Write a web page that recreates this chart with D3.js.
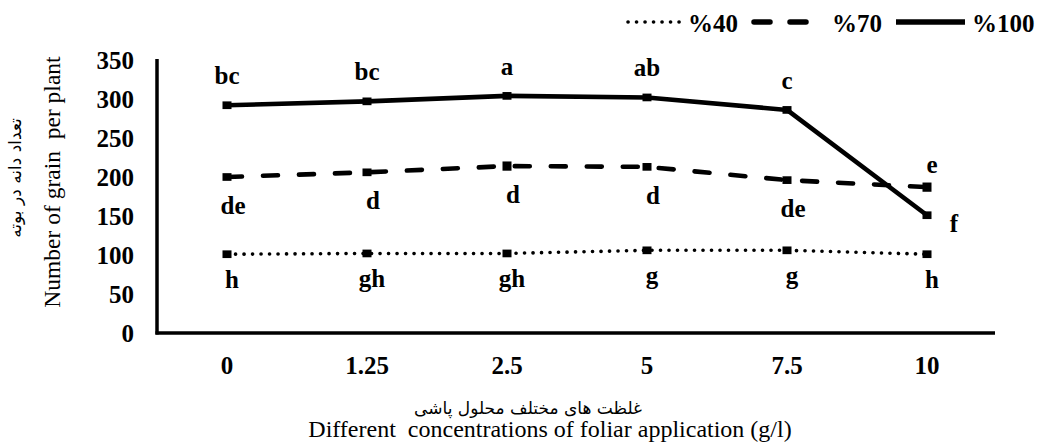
<!DOCTYPE html>
<html>
<head>
<meta charset="utf-8">
<script src="https://cdn.jsdelivr.net/npm/d3@7"></script>
<style>
  html, body { margin: 0; padding: 0; background: #fff; }
  svg { display: block; }
  text { font-family: "Liberation Serif", "Times New Roman", serif; fill: #000; white-space: pre; }
  text.b { font-family: "Liberation Serif", serif; font-weight: 700; }
  .fa { font-family: "DejaVu Sans", "Noto Sans", sans-serif; }
</style>
</head>
<body>
<script>
// ---- data ----
const categories = ["0", "1.25", "2.5", "5", "7.5", "10"];
const yTicks = [0, 50, 100, 150, 200, 250, 300, 350];
const series40 = [101, 102, 102, 106, 106, 101];
const series70 = [200, 206, 214, 213, 196, 187];
const series100 = [292, 297, 304, 302, 286, 151];
const err40 = [3, 3, 3, 3, 3, 3];
const err70 = [3, 3, 4, 3, 3, 4];
const err100 = [3, 3, 3, 3, 3, 3];
const letters40 = ["h", "gh", "gh", "g", "g", "h"];
const letters70 = ["de", "d", "d", "d", "de", "e"];
const letters100 = ["bc", "bc", "a", "ab", "c", "f"];
const legendLabels = ["%40", "%70", "%100"];
const yTitleEn = "Number of grain  per plant";
const yTitleFa = "تعداد دانه در بوته";
const xTitleEn = "Different  concentrations of foliar application (g/l)";
const xTitleFa = "غلظت های مختلف محلول پاشی";

// ---- layout ----
const W = 1040, H = 445;
const svg = d3.select("body").append("svg").attr("width", W).attr("height", H);

const x = d3.scalePoint().domain(categories).range([157, 997]).padding(0.5);
const y = d3.scaleLinear().domain([0, 350]).range([333, 60]);

// axes lines
svg.append("line").attr("x1", 157).attr("x2", 157).attr("y1", y(350) - 1).attr("y2", y(0) + 1.5)
  .attr("stroke", "#000").attr("stroke-width", 3.5);
svg.append("line").attr("x1", 155.5).attr("x2", 995).attr("y1", y(0)).attr("y2", y(0))
  .attr("stroke", "#000").attr("stroke-width", 3.5);

// y tick labels
svg.append("g").selectAll("text").data(yTicks).join("text").attr("class", "b")
  .attr("x", 134).attr("y", d => y(d)).attr("dy", "0.35em")
  .attr("text-anchor", "end").attr("font-size", 25)
  .text(d => String(d));

// x tick labels
svg.append("g").selectAll("text").data(categories).join("text").attr("class", "b")
  .attr("x", d => x(d)).attr("y", 374)
  .attr("text-anchor", "middle").attr("font-size", 25)
  .text(d => d);

// titles
svg.append("text").attr("transform", "translate(60,182) rotate(-90)")
  .attr("text-anchor", "middle").attr("font-size", 23.5).text(yTitleEn);
svg.append("text").attr("class", "fa").attr("transform", "translate(21,178) rotate(-90)")
  .attr("text-anchor", "middle").attr("font-size", 17).attr("direction", "rtl").text(yTitleFa);
svg.append("text").attr("x", 550).attr("y", 437)
  .attr("text-anchor", "middle").attr("font-size", 24).text(xTitleEn);
svg.append("text").attr("class", "fa").attr("x", 528).attr("y", 414)
  .attr("text-anchor", "middle").attr("font-size", 17).attr("direction", "rtl").text(xTitleFa);

// series styles
const seriesDefs = [
  { vals: series40, err: err40, dash: "0.1,8.4", width: 3.6, cap: "round" },
  { vals: series70, err: err70, dash: "15,21", width: 4.6, cap: "round" },
  { vals: series100, err: err100, dash: null, width: 4.6, cap: "butt" }
];

const line = d3.line().x((d, i) => x(categories[i])).y(d => y(d));

seriesDefs.forEach(s => {
  const p = svg.append("path").datum(s.vals).attr("d", line)
    .attr("fill", "none").attr("stroke", "#000").attr("stroke-width", s.width)
    .attr("stroke-linecap", s.cap).attr("stroke-linejoin", "round");
  if (s.dash) p.attr("stroke-dasharray", s.dash);
  const g = svg.append("g");
  s.vals.forEach((v, i) => {
    const cx = x(categories[i]);
    g.append("rect").attr("x", cx - 4.5).attr("y", y(v + s.err[i]) - 1.5)
      .attr("width", 9).attr("height", y(v - s.err[i]) - y(v + s.err[i]) + 3).attr("fill", "#000");
  });
});

// significance letters
function lab(vals, letters, dx, dy, special) {
  svg.append("g").selectAll("text").data(vals).join("text").attr("class", "b")
    .attr("x", (d, i) => x(categories[i]) + (special && special[i] ? special[i][0] : dx))
    .attr("y", (d, i) => y(d) + (special && special[i] ? special[i][1] : dy))
    .attr("text-anchor", "middle").attr("font-size", 25)
    .text((d, i) => letters[i]);
}
lab(series100, letters100, 0, -21, { 5: [27, 17] });
lab(series70, letters70, 6, 37, { 5: [5, -14] });
lab(series40, letters40, 5, 34, null);

// legend
const legend = svg.append("g");
const legItems = [
  { x1: 628, x2: 681, tx: 688, dash: "0.1,8.4", width: 3.6, cap: "round" },
  { x1: 754, x2: 806, tx: 832, dash: "16,20", width: 5.5, cap: "round" },
  { x1: 896, x2: 965, tx: 972, dash: null, width: 5.5, cap: "butt" }
];
legItems.forEach((it, i) => {
  const l = legend.append("line").attr("x1", it.x1).attr("x2", it.x2).attr("y1", 22).attr("y2", 22)
    .attr("stroke", "#000").attr("stroke-width", it.width).attr("stroke-linecap", it.cap);
  if (it.dash) l.attr("stroke-dasharray", it.dash);
  legend.append("text").attr("class", "b").attr("x", it.tx).attr("y", 23).attr("dy", "0.35em")
    .attr("font-size", 25).text(legendLabels[i]);
});
</script>
</body>
</html>
